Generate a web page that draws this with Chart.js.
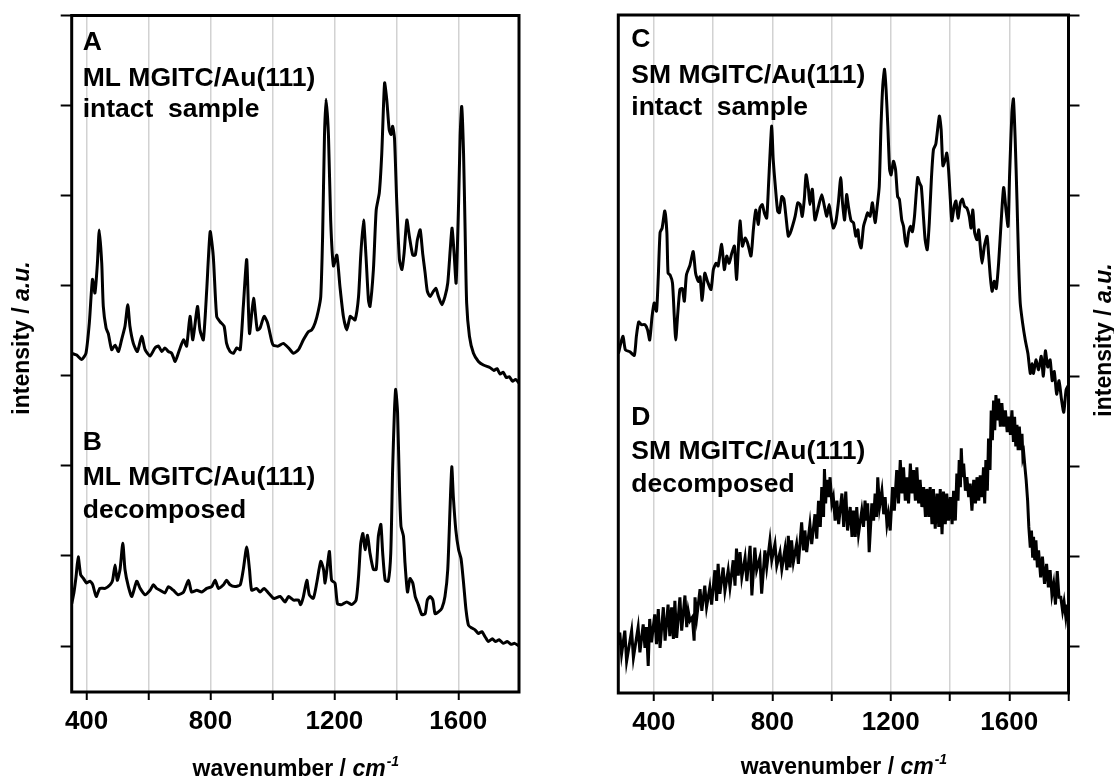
<!DOCTYPE html>
<html>
<head>
<meta charset="utf-8">
<script src="https://cdn.jsdelivr.net/npm/chart.js@4.4.1/dist/chart.umd.min.js"></script>
<style>
  html, body { margin: 0; padding: 0; background: #fff; }
  body { width: 1114px; height: 780px; position: relative; overflow: hidden; }
  canvas { position: absolute; top: 0; }
  #left { left: 0; }
  #right { left: 557px; }
</style>
</head>
<body>
<canvas id="left" width="557" height="780"></canvas>
<canvas id="right" width="557" height="780"></canvas>
<script>
// spectrum A: ML MGITC/Au(111), intact sample (stacked upper trace)
const xA = [352,368,384,398,409,419,427,435,441,449,454,463,470,481,492,503,513,524,533,540,
  551,564,578,589,605,621,632,643,653,664,675,686,700,713,723,734,743,758,766,777,
  788,799,809,820,831,844,852,863,874,885,896,906,917,926,939,951,960,973,984,998,
  1003,1019,1035,1052,1068,1084,1100,1116,1127,1138,1148,1156,1162,1168,1173,1181,1188,1197,1208,1218,
  1229,1240,1251,1259,1267,1278,1285,1294,1302,1310,1315,1326,1335,1345,1353,1362,1369,1377,1383,1388,
  1394,1401,1410,1418,1425,1434,1442,1453,1461,1468,1477,1485,1493,1500,1509,1520,1528,1536,1547,1557,
  1566,1574,1580,1587,1593,1601,1606,1611,1617,1622,1627,1636,1649,1665,1681,1703,1715,1725,1735,1745,
  1755,1765,1775,1785,1796];
const yA = [3.25,3.23,3.18,3.25,3.59,4.07,3.92,4.25,4.62,4.25,3.77,3.53,3.47,3.29,3.34,3.27,3.40,3.55,3.79,3.55,
  3.36,3.27,3.44,3.29,3.22,3.31,3.33,3.27,3.31,3.27,3.25,3.16,3.29,3.40,3.33,3.66,3.40,3.77,3.51,3.40,
  3.96,4.60,4.33,3.66,3.60,3.55,3.36,3.27,3.25,3.31,3.29,3.77,4.29,3.47,3.86,3.51,3.53,3.66,3.59,3.38,
  3.34,3.33,3.36,3.31,3.25,3.29,3.40,3.49,3.51,3.59,3.72,3.88,4.55,5.66,6.07,5.66,4.73,4.22,4.34,3.99,
  3.66,3.51,3.66,3.64,3.62,3.88,4.33,4.73,4.33,3.84,3.77,4.18,4.84,5.03,5.47,6.25,6.07,5.73,5.68,5.77,
  5.64,4.96,4.29,4.18,4.36,4.73,4.55,4.34,4.34,4.51,4.62,4.36,4.14,3.94,3.88,3.94,3.97,3.88,3.79,3.88,
  4.03,4.40,4.64,4.33,4.03,4.92,5.66,5.99,5.47,4.62,3.81,3.44,3.25,3.16,3.12,3.09,3.06,3.08,3.02,3.04,
  2.98,2.99,2.94,2.96,2.92];

// spectrum B: ML MGITC/Au(111), decomposed
const xB = [352,359,366,373,381,390,400,411,420,431,443,460,476,484,492,499,508,517,524,535,
  546,562,573,589,605,616,626,637,653,664,680,696,713,729,739,756,772,788,804,815,
  826,842,852,863,879,896,906,917,926,933,949,960,973,987,1003,1008,1025,1041,1052,1068,
  1084,1091,1100,1111,1119,1132,1143,1156,1165,1170,1177,1184,1191,1202,1210,1224,1240,1256,1270,1278,
  1285,1292,1299,1307,1315,1326,1335,1342,1350,1356,1364,1374,1382,1388,1394,1398,1404,1410,1415,1423,
  1428,1436,1444,1453,1461,1471,1482,1493,1500,1509,1518,1525,1536,1547,1557,1566,1574,1579,1584,1592,
  1601,1609,1617,1625,1633,1644,1654,1665,1676,1687,1697,1710,1720,1732,1745,1758,1770,1782,1796];
const yB = [0.47,0.59,0.77,0.99,0.79,0.75,0.70,0.72,0.68,0.55,0.64,0.64,0.68,0.73,0.90,0.73,0.85,1.14,0.85,0.66,
  0.55,0.72,0.64,0.57,0.62,0.68,0.64,0.62,0.59,0.66,0.62,0.57,0.60,0.73,0.60,0.62,0.60,0.64,0.66,0.73,
  0.64,0.68,0.73,0.68,0.66,0.68,0.85,1.10,0.85,0.62,0.64,0.60,0.64,0.59,0.53,0.53,0.55,0.49,0.55,0.51,
  0.51,0.46,0.55,0.73,0.57,0.53,0.70,0.94,0.85,0.70,0.88,1.05,0.73,0.70,0.47,0.46,0.49,0.46,0.51,0.77,
  1.14,1.25,1.07,1.23,1.03,0.85,0.85,1.22,1.35,1.03,0.73,0.72,1.03,1.96,2.62,2.85,2.59,1.77,1.33,1.22,
  0.92,0.60,0.75,0.70,0.55,0.46,0.35,0.36,0.51,0.55,0.51,0.36,0.38,0.42,0.55,0.85,1.59,1.99,1.66,1.29,
  1.07,0.97,0.70,0.40,0.23,0.20,0.18,0.14,0.16,0.10,0.05,0.08,0.05,0.07,0.03,0.05,0.02,0.03,0.00];

// spectrum C: SM MGITC/Au(111), intact sample
const xC = [280,282,288,296,304,319,334,341,349,358,370,379,386,394,401,409,415,421,428,437,444,
  448,455,463,469,474,480,488,496,503,510,522,533,541,550,556,563,572,581,593,601,
  610,617,629,638,646,654,663,672,679,685,691,699,708,717,728,736,744,753,758,766,
  773,781,787,792,798,803,811,818,824,832,839,846,854,861,868,877,886,894,901,908,
  914,922,927,935,944,956,967,976,984,992,998,1006,1014,1023,1031,1037,1044,1051,1057,1066,
  1074,1082,1089,1093,1100,1108,1116,1122,1130,1138,1147,1154,1161,1167,1173,1179,1184,1190,1196,1201,
  1209,1216,1223,1229,1237,1243,1249,1254,1260,1267,1273,1280,1286,1291,1297,1303,1311,1316,1323,1330,
  1337,1344,1352,1364,1370,1376,1384,1389,1395,1401,1406,1414,1420,1427,1435,1442,1449,1457,1465,1471,
  1477,1483,1491,1497,1502,1508,1516,1525,1530,1536,1542,1549,1556,1564,1573,1581,1589,1596,1601,1609,
  1614,1620,1626,1632,1637,1645,1654,1663,1671,1677,1682,1690,1699,1708,1715,1722,1730,1738,1745,1752,
  1760,1768,1776,1784,1792,1800];
const yC = [3.25,3.27,3.36,3.44,3.29,3.27,3.23,3.44,3.60,3.57,3.57,3.51,3.40,3.66,3.81,3.72,4.10,4.59,4.64,4.83,4.59,
  4.14,4.12,4.03,3.66,3.40,3.66,3.96,3.97,3.83,4.12,4.23,4.38,4.14,4.05,4.10,3.84,4.14,4.05,3.96,4.18,
  4.25,4.22,4.46,4.18,4.33,4.25,4.36,4.44,4.07,4.40,4.72,4.44,4.53,4.47,4.33,4.62,4.84,4.68,4.86,4.90,
  4.81,4.75,5.10,5.44,5.77,5.40,5.07,4.83,4.81,4.99,4.96,4.77,4.55,4.59,4.66,4.77,4.92,4.90,4.77,4.96,
  5.23,5.07,4.90,5.07,4.73,4.88,5.01,4.88,4.77,4.90,4.77,4.64,4.70,4.92,5.20,4.92,4.73,5.01,4.88,4.72,
  4.70,4.55,4.62,4.49,4.42,4.66,4.75,4.81,4.77,4.92,4.70,4.88,5.10,5.77,6.22,6.40,6.18,5.77,5.29,5.23,
  5.38,5.29,4.99,4.96,4.73,4.66,4.49,4.44,4.59,4.66,4.60,4.77,5.03,5.20,5.14,5.10,4.73,4.51,4.40,4.70,
  5.18,5.51,5.57,5.88,5.73,5.33,5.40,5.47,5.29,4.96,4.72,4.88,4.94,4.75,4.92,4.96,4.88,4.86,4.77,4.64,
  4.84,4.59,4.51,4.62,4.44,4.25,4.44,4.55,4.36,4.10,3.94,4.05,3.97,4.25,4.73,5.09,4.84,4.66,5.22,5.92,
  6.07,5.62,4.96,4.22,3.81,3.59,3.40,3.25,3.03,3.14,3.03,3.18,3.07,3.22,3.00,3.28,3.10,3.18,2.95,3.05,
  2.80,2.95,2.75,2.60,2.85,2.90];

// spectrum D: SM MGITC/Au(111), decomposed (noisy, upper/lower excursions as read)
const xD = [281,285,291,302,308,325,331,347,353,364,370,375,381,386,392,403,409,415,421,432,438,
  448,454,460,466,471,477,488,494,505,511,516,522,530,536,539,545,556,562,572,578,
  589,595,606,612,617,623,634,640,651,657,668,674,679,685,691,697,708,714,725,731,
  741,747,758,764,775,781,792,798,809,815,826,832,843,849,854,860,865,871,882,888,
  899,905,910,916,927,933,944,950,956,962,967,973,976,980,984,990,995,1001,1006,1012,
  1018,1024,1035,1041,1048,1054,1063,1069,1074,1080,1085,1091,1102,1108,1113,1118,1122,1127,1136,1142,
  1147,1152,1156,1162,1170,1176,1181,1187,1192,1198,1206,1212,1220,1226,1232,1238,1243,1249,1254,1260,
  1266,1272,1277,1283,1288,1294,1299,1305,1311,1317,1322,1328,1333,1339,1344,1350,1356,1362,1367,1373,
  1378,1384,1389,1395,1401,1407,1412,1418,1423,1427,1431,1435,1438,1442,1446,1452,1457,1463,1468,1474,
  1480,1486,1491,1497,1502,1508,1513,1517,1521,1526,1530,1535,1539,1543,1547,1551,1555,1560,1564,1570,
  1575,1581,1587,1593,1598,1604,1609,1614,1618,1622,1626,1630,1634,1639,1643,1646,1649,1653,1657,1662,
  1666,1671,1675,1679,1682,1686,1690,1695,1699,1706,1712,1719,1726,1732,1738,1744,1750,1756,1762,1768,
  1774,1780,1785,1791,1796,1799];
const yD = [0.02,0.16,-0.08,0.18,-0.16,0.18,-0.12,0.22,-0.06,0.25,-0.01,0.22,-0.21,0.31,0.05,0.36,0.03,0.42,-0.01,0.44,0.07,
  0.47,0.12,0.44,0.09,0.51,0.10,0.55,0.18,0.57,0.22,0.40,0.29,0.33,0.07,0.55,0.33,0.64,0.40,0.68,0.44,
  0.66,0.47,0.85,0.51,0.92,0.59,0.88,0.62,0.85,0.66,0.96,0.68,1.09,0.79,1.05,0.77,0.99,0.73,1.12,0.57,
  1.10,0.85,0.99,0.59,1.07,0.88,1.18,0.96,1.14,0.90,1.05,0.86,1.09,0.85,1.23,0.88,1.18,0.94,1.14,0.92,
  1.38,1.07,1.29,1.05,1.36,1.14,1.47,1.20,1.62,1.33,1.77,1.44,1.97,1.59,1.85,1.66,1.88,1.59,1.66,1.40,
  1.62,1.36,1.70,1.33,1.72,1.29,1.55,1.22,1.51,1.22,1.55,1.25,1.51,1.33,1.62,1.40,1.59,1.05,1.59,1.40,
  1.70,1.44,1.88,1.55,1.73,1.47,1.66,1.36,1.47,1.29,1.77,1.51,1.96,1.59,2.07,1.70,1.99,1.62,1.88,1.59,
  2.03,1.70,1.96,1.62,1.99,1.59,1.85,1.55,1.77,1.44,1.75,1.44,1.77,1.36,1.75,1.31,1.70,1.33,1.75,1.25,
  1.72,1.36,1.70,1.40,1.66,1.36,1.73,1.40,1.92,1.62,2.07,1.77,2.20,1.88,2.03,1.73,1.88,1.66,1.81,1.51,
  1.85,1.59,1.88,1.62,1.90,1.66,1.99,1.59,2.07,1.73,2.31,1.96,2.62,2.29,2.73,2.40,2.79,2.51,2.75,2.44,
  2.70,2.44,2.62,2.38,2.55,2.35,2.62,2.27,2.55,2.22,2.46,2.18,2.44,2.18,2.36,2.10,2.14,1.99,1.85,1.62,
  1.33,1.10,1.29,0.99,1.22,0.96,1.18,0.88,1.07,0.77,1.00,0.70,0.92,0.66,0.85,0.58,0.70,0.47,0.84,0.55,
  0.55,0.40,0.50,0.33,0.47,0.29];

const notesLeft = [['A', 'ML MGITC/Au(111)', 'intact  sample'], ['B', 'ML MGITC/Au(111)', 'decomposed']];
const notesRight = [['C', 'SM MGITC/Au(111)', 'intact  sample'], ['D', 'SM MGITC/Au(111)', 'decomposed']];

const FONT = '"Liberation Sans", Arial, Helvetica, sans-serif';

function series(xs, ys, w, t) {
  const n = Math.min(xs.length, ys.length);
  const pts = [];
  for (let i = 0; i < n; i++) pts.push({ x: xs[i], y: ys[i] });
  return { data: pts, borderColor: '#000', borderWidth: w, pointRadius: 0, tension: t, fill: false };
}

// frame, panel labels and axis titles (mixed bold / italic, so drawn by hand)
const decor = {
  id: 'decor',
  afterDraw(chart, args, o) {
    const ctx = chart.ctx, a = chart.chartArea;
    ctx.save();
    ctx.strokeStyle = '#000';
    ctx.lineWidth = 3;
    ctx.strokeRect(a.left, a.top, a.right - a.left, a.bottom - a.top);

    ctx.fillStyle = '#000';
    ctx.textBaseline = 'alphabetic';
    ctx.textAlign = 'left';
    ctx.font = 'bold 26.5px ' + FONT;
    o.notes.forEach((block, b) => {
      block.forEach((txt, i) => ctx.fillText(txt, a.left + o.noteDx, o.noteY[b][i]));
    });

    // x title
    const f1 = 'bold 23px ' + FONT, f2 = 'italic bold 23px ' + FONT, f3 = 'italic bold 14px ' + FONT;
    ctx.font = f1; const w1 = ctx.measureText('wavenumber / ').width;
    ctx.font = f2; const w2 = ctx.measureText('cm').width;
    ctx.font = f3; const w3 = ctx.measureText('-1').width;
    let x = (a.left + a.right) / 2 - (w1 + w2 + w3) / 2;
    const yb = o.xTitleY;
    ctx.font = f1; ctx.fillText('wavenumber / ', x, yb); x += w1;
    ctx.font = f2; ctx.fillText('cm', x, yb); x += w2;
    ctx.font = f3; ctx.fillText('-1', x + 1, yb - 10);

    // y title
    ctx.translate(o.yTitleX, o.yTitleCy);
    ctx.rotate(-Math.PI / 2);
    ctx.font = f1; const v1 = ctx.measureText('intensity / ').width;
    ctx.font = f2; const v2 = ctx.measureText('a.u.').width;
    const s = -(v1 + v2) / 2;
    ctx.font = f1; ctx.fillText('intensity / ', s, 0);
    ctx.font = f2; ctx.fillText('a.u.', s + v1, 0);
    ctx.restore();
  }
};

function xScale(min, max) {
  return {
    type: 'linear', min: min, max: max,
    afterFit: s => { s.height = 50; },
    border: { display: false },
    grid: { color: '#d2d2d2', lineWidth: 1.5, tickColor: '#000', tickWidth: 2, tickLength: 8 },
    ticks: {
      stepSize: 200, includeBounds: false, autoSkip: false, maxRotation: 0, padding: 6,
      color: '#000', font: { family: FONT, size: 26, weight: 'bold' },
      callback: v => (v % 400 === 0 ? String(v) : '')
    }
  };
}

function yScale(pos) {
  return {
    type: 'linear', position: pos, min: -0.51, max: 7,
    afterFit: s => { s.width = 11; },
    border: { display: false },
    grid: { drawOnChartArea: false, tickColor: '#000', tickWidth: 2, tickLength: 11 },
    ticks: { display: false, stepSize: 1, includeBounds: false }
  };
}

new Chart(document.getElementById('left'), {
  type: 'line',
  data: { datasets: [series(xA, yA, 3, 0.2), series(xB, yB, 3, 0.2)] },
  options: {
    responsive: false, animation: false, devicePixelRatio: 1,
    layout: { padding: { left: 60.7, right: 38, top: 15.5, bottom: 38 } },
    scales: { x: xScale(352, 1796), y: yScale('left') },
    plugins: {
      legend: { display: false }, tooltip: { enabled: false },
      decor: { notes: notesLeft, noteDx: 11, noteY: [[50, 86, 117], [450, 485, 518]],
               xTitleY: 776, yTitleX: 28.5, yTitleCy: 338 }
    }
  },
  plugins: [decor]
});

new Chart(document.getElementById('right'), {
  type: 'line',
  data: { datasets: [series(xC, yC, 3, 0.2), series(xD, yD, 3, 0)] },
  options: {
    responsive: false, animation: false, devicePixelRatio: 1,
    layout: { padding: { left: 61.3, right: 34.5, top: 15, bottom: 37 } },
    scales: { x: xScale(280, 1800), y: yScale('right') },
    plugins: {
      legend: { display: false }, tooltip: { enabled: false },
      decor: { notes: notesRight, noteDx: 13, noteY: [[47, 83, 115], [425, 459, 492]],
               xTitleY: 774, yTitleX: 554, yTitleCy: 340 }
    }
  },
  plugins: [decor]
});
</script>
</body>
</html>
